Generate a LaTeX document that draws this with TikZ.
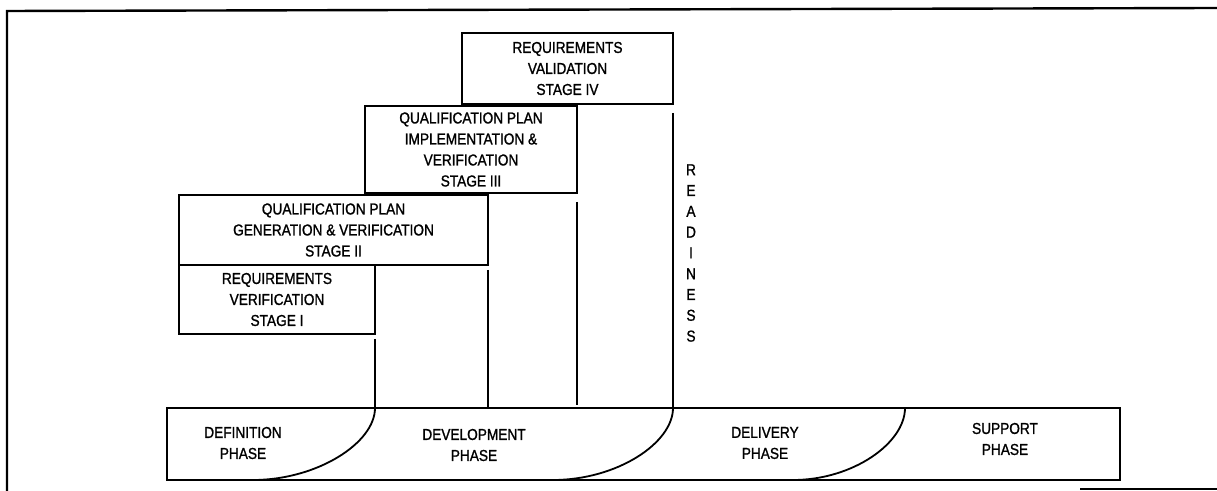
\documentclass[tikz,border=0pt]{standalone}
\usepackage{fontspec}
\setmainfont{Liberation Sans}[FakeStretch=0.865, FakeBold=1.2]

\begin{document}
\begin{tikzpicture}[
  x=0.5pt, y=-0.5pt,
  font=\fontsize{7.9}{10.5}\selectfont,
  line width=0.9pt,
  stg/.style={draw, anchor=north west, outer sep=0pt, inner xsep=2pt, inner ysep=0.5pt, align=center},
  ph/.style={align=center, inner sep=1pt}]

\useasboundingbox (0,0) rectangle (1217,491);

% ===== stages (stairs) =====
\node[stg, minimum width=105.5pt, minimum height=35.5pt] (s4) at (462,33)
  {REQUIREMENTS\\VALIDATION\\STAGE IV};
\node[stg, minimum width=106pt, minimum height=43.5pt] (s3) at (365,106)
  {QUALIFICATION PLAN\\IMPLEMENTATION \&\\VERIFICATION\\STAGE III};
\node[stg, minimum width=154.5pt, minimum height=35pt] (s2) at (179,195)
  {QUALIFICATION PLAN\\GENERATION \& VERIFICATION\\STAGE II};
\node[stg, minimum width=98pt, minimum height=34.5pt] (s1) at (179,265)
  {REQUIREMENTS\\VERIFICATION\\STAGE I};

% ===== readiness =====
\node[ph, font=\fontsize{7.9}{10.4}\selectfont] (rdy) at (691,253)
  {R\\E\\A\\D\\I\\N\\E\\S\\S};

% ===== phase bar =====
\node[draw, anchor=north west, outer sep=0pt, minimum width=476.5pt, minimum height=36pt] (bar) at (167,408) {};
\node[ph] (def) at (243,443) {DEFINITION\\PHASE};
\node[ph] (dev) at (474,445) {DEVELOPMENT\\PHASE};
\node[ph] (del) at (765,443) {DELIVERY\\PHASE};
\node[ph] (sup) at (1005,439) {SUPPORT\\PHASE};

\coordinate (t3) at (905,408);
\coordinate (e1) at (253,480);
\coordinate (e2) at (553,480);
\coordinate (e3) at (793,480);

% ===== edges =====
\draw ([yshift=-2.5pt]s1.south east) -- (s1.south east |- bar.north);
\draw ([yshift=-2.5pt]s2.south east) -- (s2.south east |- bar.north);
\draw ([yshift=-4.5pt]s3.south east) -- ([yshift=1.5pt]s3.south east |- bar.north);
\draw ([yshift=-4.5pt]s4.south east) -- (s4.south east |- bar.north);
% phase boundaries
\draw (s1.south east |- bar.north) .. controls +(0,35) and +(64,0) .. (e1);
\draw (s4.south east |- bar.north) .. controls +(0,35) and +(64,0) .. (e2);
\draw (t3) .. controls +(0,35) and +(60,0) .. (e3);

% frame
\draw[line width=1.2pt] (7,491) -- (7,11) -- (1217,8);
\draw (1080,489) -- (1217,489);

\end{tikzpicture}
\end{document}
